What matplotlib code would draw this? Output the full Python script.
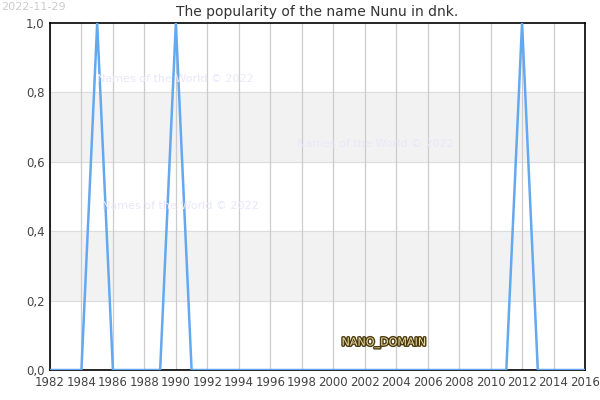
import numpy as np
import matplotlib.pyplot as plt
import matplotlib.patheffects as pe

years = list(range(1982, 2017))
peak_years = [1985, 1990, 2012]
popularity = [1.0 if y in peak_years else 0.0 for y in years]

fig = plt.figure(figsize=(6, 4), dpi=100)
ax = fig.add_axes([0.0833, 0.075, 0.8917, 0.8675])

# grey bands
for lo, hi in [(0.2, 0.4), (0.6, 0.8)]:
    ax.axhspan(lo, hi, color='#f2f2f2', zorder=0)
for yv in [0.2, 0.4, 0.6, 0.8]:
    ax.axhline(yv, color='#dddddd', lw=0.8, zorder=0.5)

xticks = list(range(1982, 2017, 2))
for xv in xticks:
    ax.axvline(xv, color='#cccccc', lw=0.9, zorder=0.5)

ax.plot(years, popularity, color='#64a8f0', lw=1.8, zorder=3)

ax.set_xlim(1982, 2016)
ax.set_ylim(0, 1)
ax.set_xticks(xticks)
ax.set_xticklabels([str(x) for x in xticks], fontsize=8.5, color='#444444')
yt = [0, 0.2, 0.4, 0.6, 0.8, 1.0]
ax.set_yticks(yt)
ax.set_yticklabels([f"{v:.1f}".replace('.', ',') for v in yt], fontsize=8.5, color='#444444')
ax.tick_params(length=0, pad=4)
for s in ax.spines.values():
    s.set_color('black')
    s.set_linewidth(1.2)

ax.set_title("The popularity of the name Nunu in dnk.", fontsize=10, color='#333333', pad=5)
fig.text(0.002, 0.995, "2022-11-29", fontsize=8, color='#cccccc', va='top', ha='left')

wm = dict(fontsize=8, color='#e8e8fa', ha='center', va='center', zorder=1)
fig.text(175 / 600, 1 - 79 / 400, "Names of the World © 2022", **wm)
fig.text(375 / 600, 1 - 144 / 400, "Names of the World © 2022", **wm)
fig.text(180 / 600, 1 - 206 / 400, "Names of the World © 2022", **wm)

t = fig.text(384 / 600, 1 - 343 / 400, "NANO_DOMAIN", fontsize=8, color='#e8d9a0',
             ha='center', va='center', zorder=5)
t.set_path_effects([pe.withStroke(linewidth=2, foreground='#4a3a10')])

fig.savefig("out.png", dpi=100)
